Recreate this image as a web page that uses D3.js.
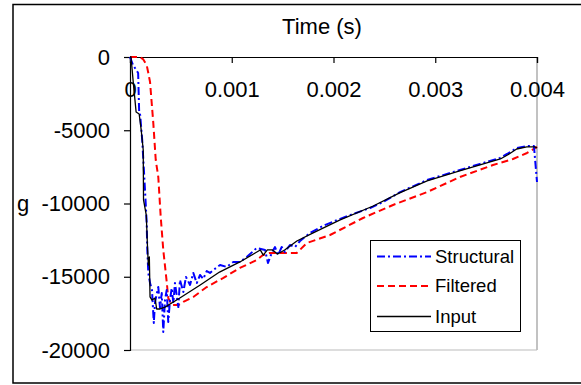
<!DOCTYPE html>
<html><head><meta charset="utf-8">
<script src="https://cdn.jsdelivr.net/npm/d3@7"></script>
<style>body{margin:0;background:#fff}svg{display:block}text{font-family:"Liberation Sans",Arial,sans-serif;fill:#000}</style>
</head><body><svg id="c" width="581" height="385"></svg>
<script>
const xTicks=[0,0.001,0.002,0.003,0.004];
const yTicks=[0,-5000,-10000,-15000,-20000];
const seriesNames=["Structural","Filtered","Input"];
const inputT=[0,0.00001,0.00003,0.00006,0.00009,0.00011,0.00013,0.000133,0.00016,0.000172,0.00018,0.00019,0.000197,0.000216,0.000246,0.000262,0.000295,0.000344,0.00049,0.00069,0.00088,0.00108,0.00123,0.00128,0.00131,0.00135,0.0014,0.00145,0.00152,0.00164,0.0018,0.00206,0.00239,0.00265,0.00292,0.00324,0.00344,0.00364,0.00371,0.0038,0.0039,0.00398,0.004];
const inputG=[0,0,-1570,-3750,-3890,-4980,-6350,-9760,-10790,-12970,-14200,-13650,-16380,-16590,-16450,-17200,-17200,-17070,-16450,-15560,-14680,-13990,-13380,-13170,-13520,-13170,-13170,-13450,-13170,-12560,-12010,-11130,-10170,-9280,-8460,-7780,-7370,-6960,-6690,-6280,-6140,-6140,-6210];
const filtT=[0,0.0000983,0.000128,0.000164,0.00018,0.000197,0.000229,0.000253,0.000278,0.000302,0.000327,0.000361,0.000376,0.00041,0.000475,0.000524,0.000622,0.000754,0.000914,0.00108,0.001245,0.001307,0.001376,0.00154,0.001638,0.001737,0.001966,0.00229,0.002585,0.002919,0.003243,0.003568,0.003764,0.003902,0.004];
const filtG=[0,0,-140,-550,-1090,-1710,-4510,-7030,-8190,-10920,-13170,-15360,-16450,-16930,-16930,-16720,-16380,-15700,-15090,-14400,-13860,-13520,-13380,-13380,-13380,-12700,-12150,-10990,-10100,-9220,-8190,-7370,-6960,-6550,-6140];
const structT=[0,0.00003,0.00008,0.00009,0.0001,0.00012,0.00013,0.00015,0.000164,0.00017,0.00018,0.000197,0.000216,0.000234,0.000246,0.000278,0.000295,0.000312,0.000327,0.000344,0.000361,0.000376,0.000393,0.00041,0.000426,0.000442,0.000475,0.000491,0.000524,0.00055,0.00059,0.000622,0.000656,0.000688,0.00072,0.000754,0.000786,0.000819,0.000885,0.00095,0.001015,0.00108,0.001147,0.001245,0.001327,0.001356,0.001393,0.001425,0.001455,0.001491,0.001523,0.001572,0.001622,0.001671,0.001769,0.001897,0.002034,0.002162,0.002359,0.002486,0.002654,0.002919,0.003243,0.00344,0.003636,0.003705,0.003803,0.003902,0.00397,0.004];
const structG=[0,-550,-1090,-3750,-3960,-5670,-6890,-9420,-11330,-13170,-14740,-15430,-15900,-18160,-16720,-15700,-17130,-16110,-18770,-16590,-15900,-18090,-16590,-15770,-16790,-15430,-17070,-15220,-16040,-15020,-15560,-14740,-15430,-14880,-15150,-14610,-14740,-14540,-14200,-14330,-13990,-13990,-13650,-13040,-13170,-14060,-13380,-12970,-13520,-12970,-13310,-12830,-12970,-12560,-12010,-11530,-11130,-10790,-10310,-9900,-9220,-8400,-7710,-7300,-6890,-6620,-6210,-6080,-6080,-8530];

const svg=d3.select("#c");
const x=d3.scaleLinear().domain([0,0.004]).range([130,537]);
const y=d3.scaleLinear().domain([0,-20000]).range([57,350]);

svg.append("rect").attr("x",13).attr("y",4.5).attr("width",600).attr("height",378.5).attr("fill","none").attr("stroke","#000").attr("stroke-width",1.5);
svg.append("line").attr("x1",537).attr("x2",537).attr("y1",57).attr("y2",350).attr("stroke","#999").attr("stroke-width",1.2);
svg.append("line").attr("x1",130).attr("x2",537).attr("y1",350).attr("y2",350).attr("stroke","#bbb").attr("stroke-width",1.2);

const fs=22;
const yAxis=svg.append("g").attr("transform","translate(130,0)")
  .call(d3.axisLeft(y).tickValues(yTicks).tickSize(6).tickPadding(14).tickFormat(d=>String(d)));
const xAxis=svg.append("g").attr("transform","translate(0,57)")
  .call(d3.axisBottom(x).tickValues(xTicks).tickSize(6).tickPadding(18).tickFormat(d=>String(d)));
[xAxis,yAxis].forEach(a=>{a.selectAll("text").style("font-size",fs+"px").attr("fill","#000");a.selectAll("path,line").attr("stroke","#000").attr("stroke-width",1.2);a.select(".domain").attr("stroke","#000");});

svg.append("text").attr("x",322).attr("y",34).attr("text-anchor","middle").style("font-size",fs+"px").text("Time (s)");
svg.append("text").attr("x",17).attr("y",211).style("font-size",fs+"px").text("g");

const line=d3.line().x(d=>x(d[0])).y(d=>y(d[1]));
const sData=structT.map((t,i)=>[t,structG[i]]);
const fData=filtT.map((t,i)=>[t,filtG[i]]);
const iData=inputT.map((t,i)=>[t,inputG[i]]);
const styles=[{c:"#0000ff",w:2,d:"8,3,2,3"},{c:"#ff0000",w:2,d:"7,4"},{c:"#000000",w:1.3,d:null}];
const datas=[sData,fData,iData];
[1,0,2].forEach(k=>{
  const p=svg.append("path").datum(datas[k]).attr("d",line).attr("fill","none").attr("stroke",styles[k].c).attr("stroke-width",styles[k].w).attr("stroke-linejoin","round");
  if(styles[k].d)p.attr("stroke-dasharray",styles[k].d);
});

const lg=svg.append("g");
lg.append("rect").attr("x",370.5).attr("y",240.5).attr("width",150).attr("height",91).attr("fill","#fff").attr("stroke","#000").attr("stroke-width",1);
const rowsY=[256.5,286,316.5];
seriesNames.forEach((n,i)=>{
  const l=lg.append("line").attr("x1",377).attr("x2",431).attr("y1",rowsY[i]).attr("y2",rowsY[i]).attr("stroke",styles[i].c).attr("stroke-width",styles[i].w);
  if(styles[i].d)l.attr("stroke-dasharray",styles[i].d);
  lg.append("text").attr("x",435).attr("y",rowsY[i]).attr("dy","0.35em").style("font-size","18.5px").text(n);
});
</script></body></html>
